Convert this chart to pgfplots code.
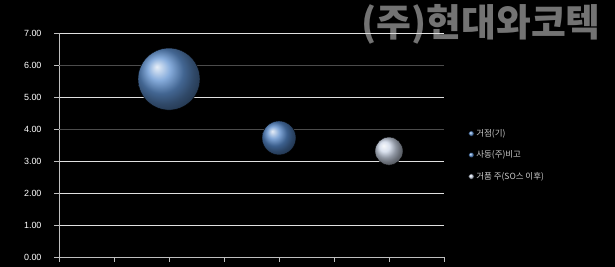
\documentclass[border=0pt]{standalone}
\usepackage{fontspec}
\setmainfont{Liberation Sans}
\newfontfamily\kr{Noto Sans CJK KR}
\usepackage{pgfplots}
\pgfplotsset{compat=1.18}
\definecolor{bub1}{RGB}{95,145,208}
\definecolor{bub2}{RGB}{85,135,200}
\definecolor{bub3}{RGB}{205,215,232}
\begin{document}
\begin{tikzpicture}
\fill[black] (0,0) rectangle (615bp,267bp);
\useasboundingbox (0,0) rectangle (615bp,267bp);
\node[anchor=east, text=black!55, font=\kr\bfseries\fontsize{38}{40}\selectfont, inner sep=0pt] at (601bp,243bp) {(주)현대와코텍};
\begin{axis}[
  at={(59bp,10bp)}, anchor=south west,
  scale only axis, width=385bp, height=224bp,
  xmin=0, xmax=3.5, ymin=0, ymax=7,
  xtick={0,0.5,...,3.5}, xticklabels={},
  ytick={0,1,2,3,5,7},
  extra y ticks={4,6},
  extra y tick style={grid style={white!30!black, line width=0.9bp}},
  /pgf/number format/.cd, fixed, fixed zerofill, precision=2, assume math mode=true,
  /pgfplots/.cd,
  ticklabel style={text=white, font=\fontsize{9}{10}\selectfont, xshift=-9bp},
  axis lines*=left,
  axis line style={white!75!black, line width=1bp},
  tick style={white!75!black, line width=0.8bp},
  tick align=outside, major tick length=5bp,
  ymajorgrids, grid style={white!88!black, line width=0.9bp},
  clip=false,
  legend style={at={(1.055,0.455)}, anchor=west, draw=none, fill=none,
    text=white!80!black, font=\kr\fontsize{8.5}{9}\selectfont, row sep=9bp,
    /tikz/every even column/.append style={column sep=2bp}},
  legend cell align=left,
  legend image post style={mark size=2.8bp},
]
\addplot[only marks, mark=ball, mark size=31bp, mark options={ball color=bub1}] coordinates {(1,5.56)};
\addlegendentry{거점(기)}
\addplot[only marks, mark=ball, mark size=17bp, mark options={ball color=bub2}] coordinates {(2,3.72)};
\addlegendentry{사동(주)비고}
\addplot[only marks, mark=ball, mark size=14bp, mark options={ball color=bub3}] coordinates {(3,3.31)};
\addlegendentry{거품 주(SO스 이후)}
\end{axis}
\end{tikzpicture}
\end{document}
